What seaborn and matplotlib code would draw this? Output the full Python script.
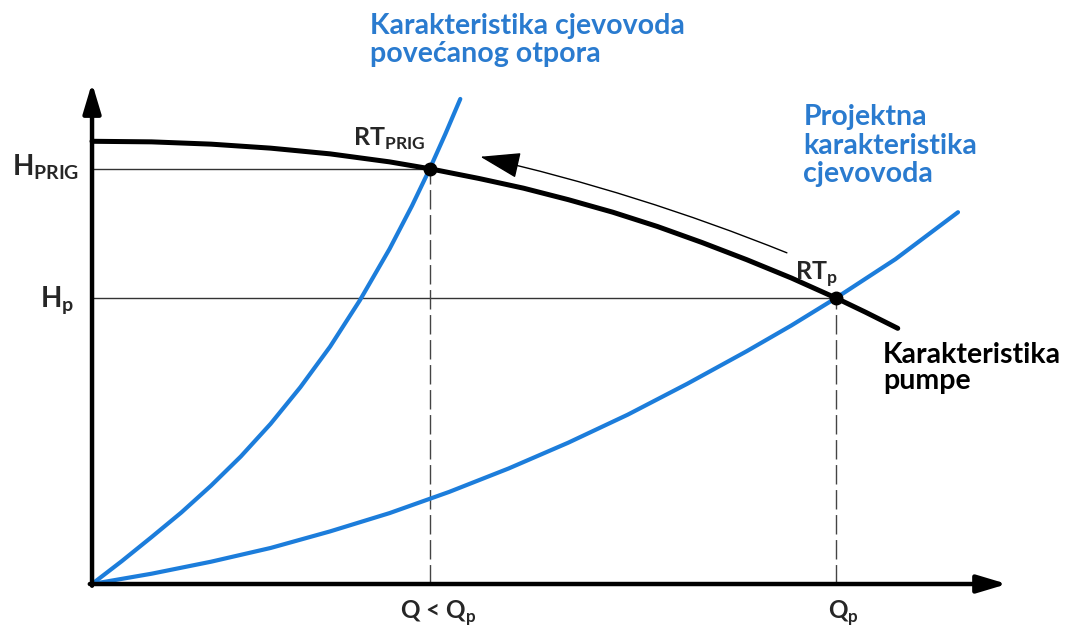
import matplotlib
matplotlib.use("Agg")
import matplotlib.pyplot as plt
import pandas as pd
import seaborn as sns

# pump characteristic (Q, H)
PUMP_Q = [0, 8, 16, 24, 32, 40, 45.4, 52, 58, 64, 70, 76, 82, 88, 94, 100, 104, 108.3]
PUMP_H = [77.4, 77.3, 76.9, 76.2, 75.2, 73.8, 72.6, 70.9, 69.2, 67.2, 65.0, 62.5,
          59.7, 56.7, 53.5, 50.0, 47.5, 44.7]

# pipeline with increased resistance
RES_Q = [0, 4, 8, 12, 16, 20, 24, 28, 32, 36, 40, 43, 45.4, 47.5, 49.5]
RES_H = [0, 4.0, 8.2, 12.5, 17.2, 22.3, 28.0, 34.4, 41.5, 49.6, 58.6, 66.1,
         72.6, 78.7, 84.8]

# design pipeline characteristic
PROJ_Q = [0, 8, 16, 24, 32, 40, 48, 56, 64, 72, 80, 88, 94, 100, 108, 116.4]
PROJ_H = [0, 1.8, 3.9, 6.3, 9.2, 12.4, 16.1, 20.2, 24.7, 29.6, 35.0, 40.7,
          45.2, 50.0, 56.8, 65.0]

# operating points
RT_PRIG = (45.4, 72.6)
RT_P = (100.0, 50.0)

AXIS_X_END = 123.0
AXIS_Y_END = 87.6

BLUE = "#1c7ddb"
TEXT_BLUE = "#2a7bcf"

sns.set_style("white")
plt.rcParams["font.family"] = ["Lato", "DejaVu Sans"]
plt.rcParams["font.weight"] = "bold"
plt.rcParams["mathtext.fontset"] = "custom"
plt.rcParams["mathtext.rm"] = "Lato:bold"
plt.rcParams["mathtext.bf"] = "Lato:bold"

fig = plt.figure(figsize=(10.67, 6.28), dpi=100)
ax = fig.add_axes([0, 0, 1, 1])
ax.set_xlim(-12.37, 131.05)
ax.set_ylim(-7.69, 102.1)

pump = pd.DataFrame({"Q": PUMP_Q, "H": PUMP_H})
res = pd.DataFrame({"Q": RES_Q, "H": RES_H})
proj = pd.DataFrame({"Q": PROJ_Q, "H": PROJ_H})

# guide lines to the operating points
ax.plot([0, RT_PRIG[0]], [RT_PRIG[1], RT_PRIG[1]], color="#333333", lw=1.0, zorder=1)
ax.plot([0, RT_P[0]], [RT_P[1], RT_P[1]], color="#333333", lw=1.0, zorder=1)
ax.plot([RT_PRIG[0], RT_PRIG[0]], [0, RT_PRIG[1]], color="#444444", lw=1.0,
        dashes=(14, 4), zorder=1)
ax.plot([RT_P[0], RT_P[0]], [0, RT_P[1]], color="#444444", lw=1.0,
        dashes=(14, 4), zorder=1)

sns.lineplot(data=res, x="Q", y="H", sort=False, color=BLUE, lw=3, ax=ax, zorder=3)
sns.lineplot(data=proj, x="Q", y="H", sort=False, color=BLUE, lw=3, ax=ax, zorder=3)
sns.lineplot(data=pump, x="Q", y="H", sort=False, color="black", lw=3.6, ax=ax, zorder=2)
ax.set_xlim(-12.37, 131.05)
ax.set_ylim(-7.69, 102.1)
ax.axis("off")

ax.plot([RT_PRIG[0], RT_P[0]], [RT_PRIG[1], RT_P[1]], "o", color="black",
        ms=9, zorder=5)

# axes with arrow heads
ax.annotate("", xy=(AXIS_X_END, 0), xytext=(-0.3, 0),
            arrowprops=dict(arrowstyle="-|>,head_length=1.5,head_width=0.45",
                            mutation_scale=12, lw=3.2, color="black",
                            shrinkA=0, shrinkB=0))
ax.annotate("", xy=(0, AXIS_Y_END), xytext=(0, -0.3),
            arrowprops=dict(arrowstyle="-|>,head_length=1.5,head_width=0.45",
                            mutation_scale=12, lw=3.2, color="black",
                            shrinkA=0, shrinkB=0))

# direction of the operating point shift
ax.annotate("", xy=(52.2, 74.7), xytext=(93.4, 57.9),
            arrowprops=dict(arrowstyle="-|>,head_length=1.7,head_width=0.55",
                            mutation_scale=15, lw=1.0, color="black",
                            connectionstyle="arc3,rad=0.04",
                            shrinkA=0, shrinkB=0))

fs = 20.5
ax.text(37.3, 99.9, "Karakteristika cjevovoda\npovećanog otpora", color=TEXT_BLUE,
        fontsize=fs, fontweight="bold", ha="left", va="top", linespacing=1.12)
ax.text(95.6, 83.9, "Projektna\nkarakteristika\ncjevovoda", color=TEXT_BLUE,
        fontsize=fs, fontweight="bold", ha="left", va="top", linespacing=1.12)
ax.text(106.3, 42.3, "Karakteristika\npumpe", color="black",
        fontsize=fs, fontweight="bold", ha="left", va="top", linespacing=1.02)

ax.text(35.1, 76.6, r"RT$_{\mathrm{PRIG}}$", fontsize=18, ha="left", va="baseline")
ax.text(94.5, 53.1, r"RT$_{\mathrm{p}}$", fontsize=18, ha="left", va="baseline")
ax.text(-10.75, 71.5, r"H$_{\mathrm{PRIG}}$", fontsize=20, ha="left", va="baseline")
ax.text(-7.0, 48.4, r"H$_{\mathrm{p}}$", fontsize=20, ha="left", va="baseline")
ax.text(46.5, -2.6, r"Q < Q$_{\mathrm{p}}$", fontsize=17.5, ha="center", va="top")
ax.text(101.0, -2.6, r"Q$_{\mathrm{p}}$", fontsize=17.5, ha="center", va="top")

fig.savefig("out.png", dpi=100)
